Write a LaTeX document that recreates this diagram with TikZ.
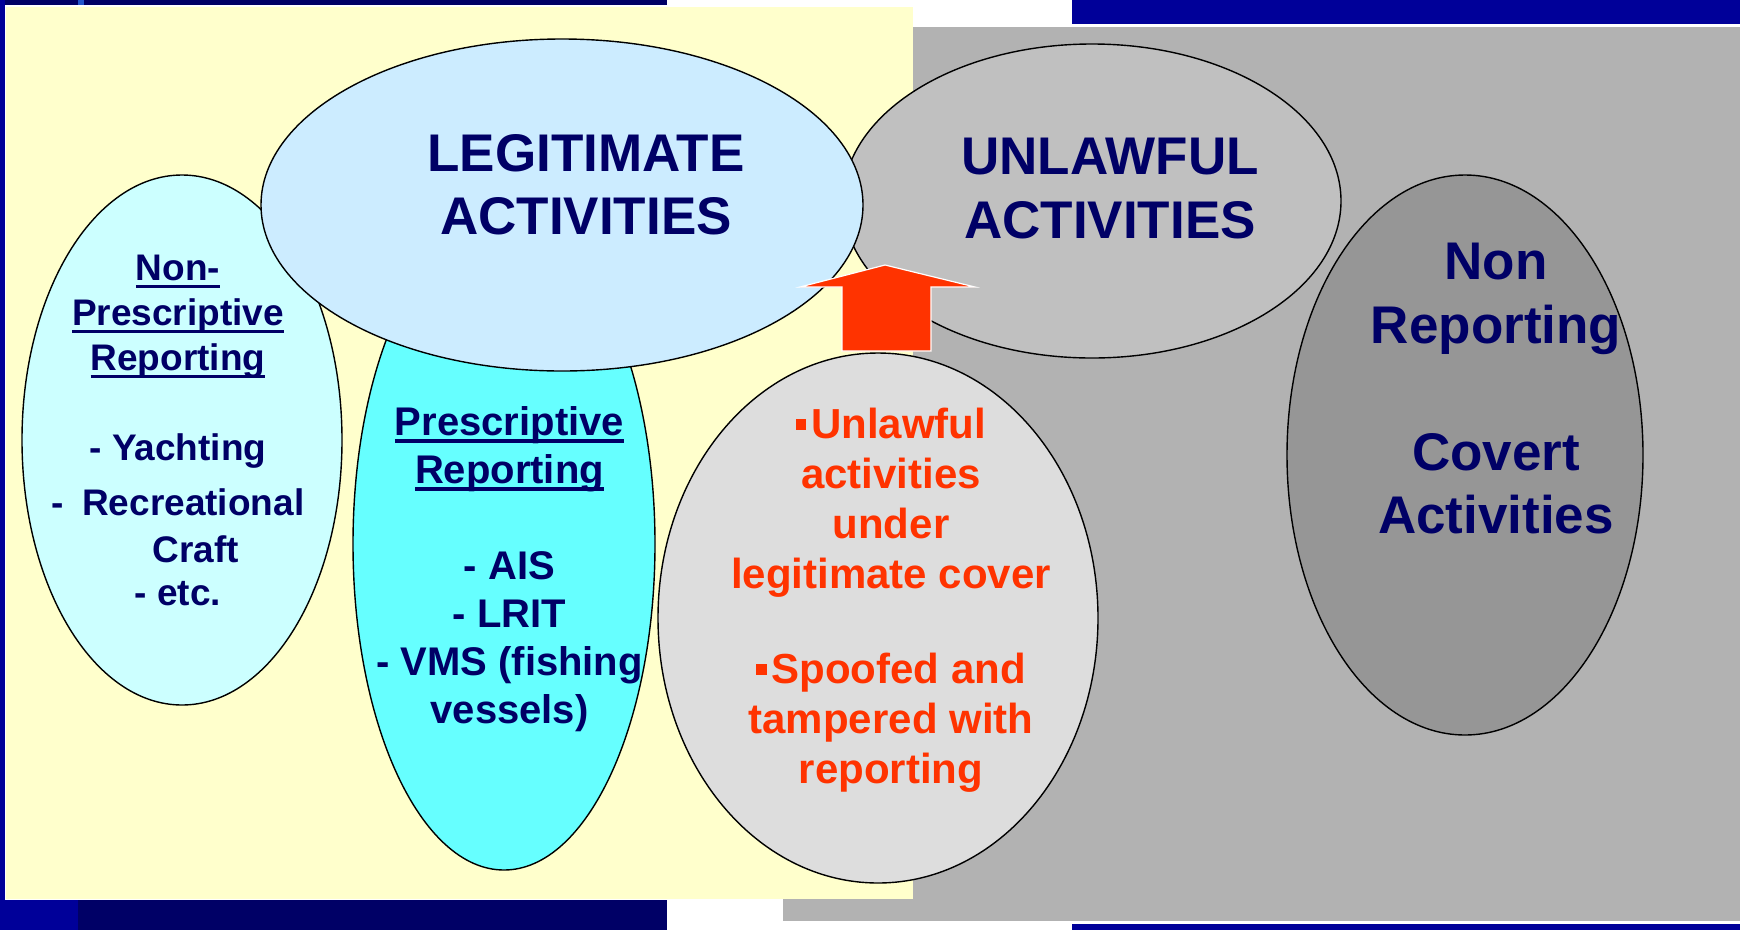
\documentclass[tikz,border=0pt]{standalone}
\usepackage{fontspec}
\setmainfont{Liberation Sans}
\usetikzlibrary{shapes.geometric}

\definecolor{navyd}{HTML}{000066}
\definecolor{navyb}{HTML}{000099}
\definecolor{navyl}{HTML}{2255CC}
\definecolor{panelyel}{HTML}{FFFFCC}
\definecolor{panelgray}{HTML}{B2B2B2}
\definecolor{legitfill}{HTML}{CCECFF}
\definecolor{unlawfill}{HTML}{C0C0C0}
\definecolor{nonprefill}{HTML}{CCFFFF}
\definecolor{prefill}{HTML}{66FFFF}
\definecolor{coverfill}{HTML}{DDDDDD}
\definecolor{darkfill}{HTML}{969696}
\definecolor{textnavy}{HTML}{000066}
\definecolor{alertred}{HTML}{FF3300}

% underline at a fixed depth below the baseline
\newcommand\ulbar[1]{\sbox0{#1}\rlap{\rule[-7.5pt]{\wd0}{3.5pt}}\usebox0}
% small square bullet
\newcommand\sqbul{\rule[9pt]{10.5pt}{10.5pt}\hspace{5pt}}

\begin{document}
\begin{tikzpicture}[x=1pt,y=-1pt,
  ell/.style={ellipse, draw=black, line width=1.4pt, inner sep=0pt},
  txt/.style={anchor=north, inner sep=0pt, align=center},
  bigtxt/.style={txt, text=textnavy, font={\fontsize{53}{63.5}\selectfont\bfseries}},
  redtxt/.style={txt, text=alertred, font={\fontsize{42}{50}\selectfont\bfseries}}]

\useasboundingbox (0,0) rectangle (1740,930);

% frame and panels
\fill[white] (0,0) rectangle (1740,930);
\fill[navyd] (0,0) rectangle (667,5);
\fill[navyl] (78,0) rectangle (84,5);
\fill[navyb] (0,0) rectangle (5,930);
\fill[navyb] (0,900) rectangle (78,930);
\fill[navyd] (78,900) rectangle (667,930);
\fill[navyb] (1072,0) rectangle (1740,24);
\fill[navyb] (1072,924) rectangle (1740,930);
\fill[panelgray] (783,27) rectangle (1740,921);
\fill[panelyel] (6,7) rectangle (913,899);

% ellipses
\node[ell, fill=nonprefill, minimum width=320pt, minimum height=530pt] (nonpre) at (182,440) {};
\node[ell, fill=prefill, minimum width=302pt, minimum height=652pt] (pre) at (504,544) {};
\node[ell, fill=coverfill, minimum width=440pt, minimum height=530pt] (cover) at (878,618) {};
\node[ell, fill=unlawfill, minimum width=498pt, minimum height=314pt] (unlaw) at (1092,201) {};
\node[ell, fill=legitfill, minimum width=602pt, minimum height=332pt] (legit) at (562,205) {};
\node[ell, fill=darkfill, minimum width=356pt, minimum height=560pt] (covert) at (1465,455) {};

% upward arrow
\fill[alertred, draw=white, line width=1.2pt]
  (885,265) -- (975,287) -- (931,287) -- (931,351) -- (842,351)
  -- (842,287) -- (800,287) -- cycle;

% texts
\node[bigtxt] (legittxt) at (586,134) {LEGITIMATE\\ACTIVITIES};
\node[bigtxt] (unlawtxt) at (1110,138) {UNLAWFUL\\ACTIVITIES};
\node[bigtxt] (coverttxt) at (1496,243) {Non\\Reporting\\[63.5pt]Covert\\Activities};

\node[txt, text=textnavy, font={\fontsize{37}{45}\selectfont\bfseries}] (nonpretxt) at (178,255)
  {\ulbar{Non-}\\\ulbar{Prescriptive}\\\ulbar{Reporting}\\[45pt]
   - Yachting\\[10pt]-\hspace{8pt} Recreational\\[2pt]\hspace*{36pt}Craft\\[-2pt]- etc.};

\node[txt, text=textnavy, font={\fontsize{40}{48}\selectfont\bfseries}] (pretxt) at (509.5,406)
  {\ulbar{Prescriptive}\\\ulbar{Reporting}\\[48pt]- AIS\\- LRIT\\- VMS (fishing\\vessels)};

\node[redtxt] (covertxt) at (891,408)
  {\sqbul Unlawful\\activities\\under\\legitimate cover\\[45pt]\sqbul Spoofed and\\tampered with\\reporting};

\end{tikzpicture}
\end{document}
